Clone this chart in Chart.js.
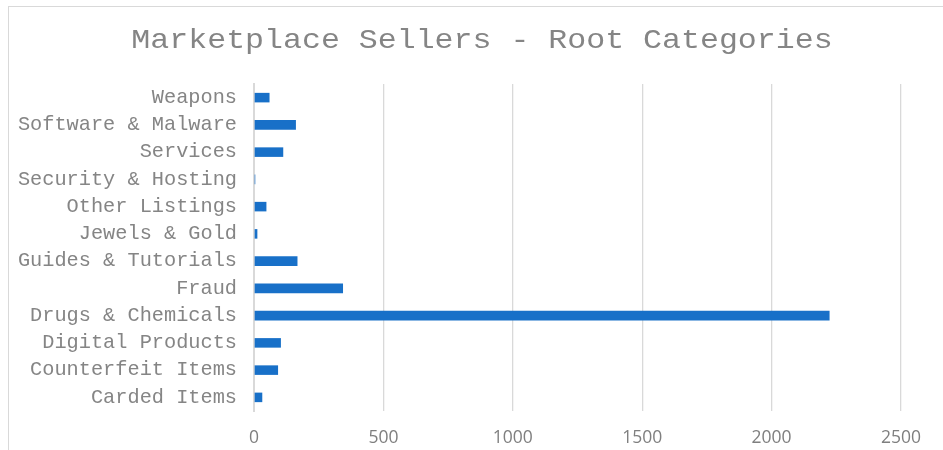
<!DOCTYPE html>
<html>
<head>
<meta charset="utf-8">
<script src="https://cdn.jsdelivr.net/npm/chart.js@4/dist/chart.umd.min.js"></script>
<style>
  html, body { margin: 0; padding: 0; background: #fff; overflow: hidden; }
  #wrap { position: relative; width: 943px; height: 450px; }
  #frame { position: absolute; left: 8px; top: 6px; width: 960px; height: 470px;
           border-left: 1.5px solid #d9d9d9; border-top: 1.5px solid #d9d9d9; box-sizing: border-box; }
  canvas { position: absolute; left: 0; top: 0; }
</style>
</head>
<body>
<div id="wrap">
  <div id="frame"></div>
  <canvas id="c" width="943" height="450"></canvas>
</div>
<script>
// Categories, top to bottom as drawn
const categories = [
  "Weapons",
  "Software & Malware",
  "Services",
  "Security & Hosting",
  "Other Listings",
  "Jewels & Gold",
  "Guides & Tutorials",
  "Fraud",
  "Drugs & Chemicals",
  "Digital Products",
  "Counterfeit Items",
  "Carded Items"
];
// Number of sellers per root category
const sellers = [60, 162, 113, 5, 48, 13, 168, 344, 2224, 104, 93, 32];
// Value axis ticks
const tickMin = 0;
const tickMax = 2500;
const tickStep = 500;

const titleText = "Marketplace Sellers - Root Categories";

const titlePlugin = {
  id: 'centeredTitle',
  afterDraw(chart) {
    const ctx = chart.ctx;
    ctx.save();
    ctx.fillStyle = '#858585';
    ctx.font = "normal 28px 'Liberation Mono', 'Courier New', monospace";
    ctx.textAlign = 'center';
    ctx.textBaseline = 'alphabetic';
    ctx.translate(482, 48);
    ctx.scale(1.128, 1);
    ctx.fillText(titleText, 0, 0);
    ctx.restore();
  }
};

new Chart(document.getElementById('c'), {
  type: 'bar',
  data: {
    labels: categories,
    datasets: [{
      label: 'Sellers',
      data: sellers,
      backgroundColor: '#1870c8',
      borderWidth: 0,
      barPercentage: 0.35,
      categoryPercentage: 1
    }]
  },
  plugins: [titlePlugin],
  options: {
    indexAxis: 'y',
    responsive: false,
    animation: false,
    devicePixelRatio: 1,
    layout: { padding: { left: 0, right: 42, top: 84, bottom: 3 } },
    plugins: {
      legend: { display: false },
      tooltip: { enabled: false },
      title: { display: false }
    },
    scales: {
      x: {
        min: tickMin,
        max: tickMax,
        afterFit: (scale) => { scale.height = 36; },
        ticks: {
          stepSize: tickStep,
          color: '#7f7f7f',
          padding: 17,
          maxRotation: 0,
          callback: (v) => String(v),
          font: { family: "'Open Sans', 'Liberation Sans', sans-serif", size: 17.5 }
        },
        grid: { color: '#d9d9d9', lineWidth: 1.3, drawTicks: false },
        border: { display: false }
      },
      y: {
        afterFit: (scale) => { scale.width = 254; },
        ticks: {
          color: '#858585',
          padding: 17,
          autoSkip: false,
          font: { family: "'Liberation Mono', 'Courier New', monospace", size: 20.3 }
        },
        grid: { display: false, drawTicks: false },
        border: { display: true, color: '#d9d9d9', width: 2 }
      }
    }
  }
});
</script>
</body>
</html>
